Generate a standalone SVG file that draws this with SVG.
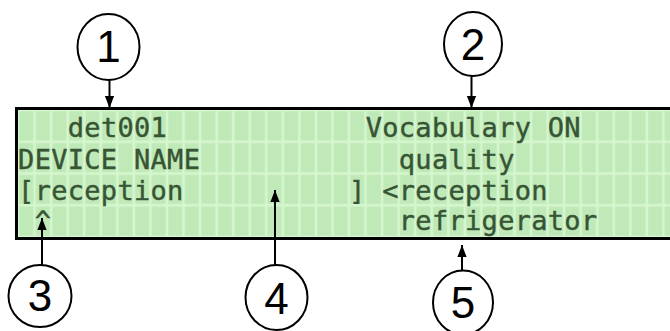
<svg xmlns="http://www.w3.org/2000/svg" width="670" height="331" viewBox="0 0 670 331">
  <defs>
    <pattern id="cells" patternUnits="userSpaceOnUse" x="18" y="110" width="16.55" height="31.75">
      <rect x="0" y="0" width="16.55" height="31.75" fill="#d6f6cf"/>
      <rect x="1.3" y="1.3" width="13.95" height="29.15" fill="#bfe9b7"/>
    </pattern>
    <marker id="ah" markerUnits="userSpaceOnUse" markerWidth="12" markerHeight="14" refX="13" refY="5" orient="auto" viewBox="0 0 13 10">
      <path d="M0,0 L13,5 L0,10 Z" fill="#000"/>
    </marker>
    <style>
      .lcd { font-family: "DejaVu Sans Mono", "Liberation Mono", monospace; font-size: 27px; letter-spacing: 0.3px; fill: #375434; stroke: #375434; stroke-width: 0.4; white-space: pre; }
      .ring { fill: #fff; stroke: #000; stroke-width: 2; }
      .num { font-family: "Liberation Sans", Arial, sans-serif; font-size: 44px; fill: #000; text-anchor: middle; }
      .conn { stroke: #000; stroke-width: 2; fill: none; marker-end: url(#ah); }
    </style>
  </defs>
  <rect width="670" height="331" fill="#fff"/>

  <g id="lcd">
    <rect x="16.5" y="108.5" width="700" height="130" fill="url(#cells)" stroke="#000" stroke-width="3"/>
    <text class="lcd" x="67.8" y="137">det001</text>
    <text class="lcd" x="365.7" y="137">Vocabulary ON</text>
    <text class="lcd" x="18.1" y="168.5">DEVICE NAME</text>
    <text class="lcd" x="398.8" y="168.5">quality</text>
    <text class="lcd" x="18.1" y="199.5">[reception</text>
    <text class="lcd" x="349.1" y="199.5">] &lt;reception</text>
    <text class="lcd" x="34.7" y="230">^</text>
    <text class="lcd" x="398.8" y="230">refrigerator</text>
  </g>

  <g id="connectors">
    <line class="conn" x1="109.5" y1="80" x2="109.5" y2="108"/>
    <line class="conn" x1="471.5" y1="76" x2="471.5" y2="108"/>
    <line class="conn" x1="42" y1="265" x2="42" y2="218"/>
    <line class="conn" x1="275" y1="265" x2="275" y2="190"/>
    <line class="conn" x1="462" y1="271" x2="462" y2="245"/>
  </g>

  <g id="callout1">
    <ellipse class="ring" cx="108.5" cy="47" rx="31" ry="33"/>
    <text class="num" x="108.5" y="62">1</text>
  </g>
  <g id="callout2">
    <ellipse class="ring" cx="473" cy="44" rx="29" ry="32"/>
    <text class="num" x="473" y="60">2</text>
  </g>
  <g id="callout3">
    <ellipse class="ring" cx="40" cy="296" rx="31.5" ry="31"/>
    <text class="num" x="40" y="311">3</text>
  </g>
  <g id="callout4">
    <ellipse class="ring" cx="276.5" cy="297.5" rx="31" ry="32.5"/>
    <text class="num" x="276.5" y="314">4</text>
  </g>
  <g id="callout5">
    <ellipse class="ring" cx="463" cy="302.5" rx="30" ry="32"/>
    <text class="num" x="463" y="318">5</text>
  </g>
</svg>
